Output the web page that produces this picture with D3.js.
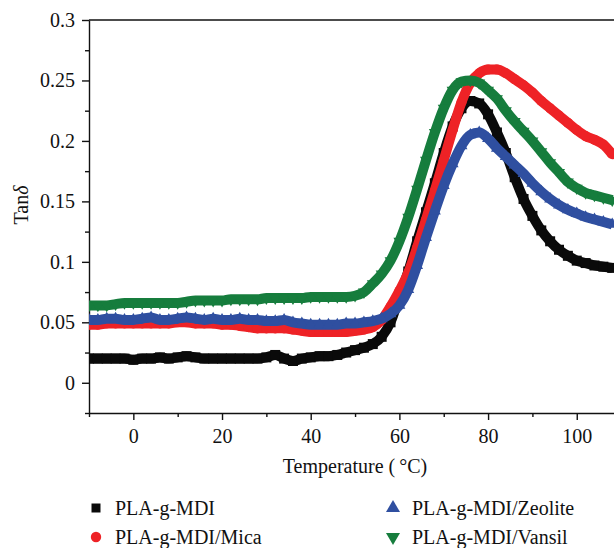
<!DOCTYPE html>
<html>
<head>
<meta charset="utf-8">
<script src="https://cdn.jsdelivr.net/npm/d3@7"></script>
<style>
    body { margin: 0; background: #fff; }
    svg { display: block; font-family: "Liberation Serif", "DejaVu Serif", serif; }
    .axis path, .axis line { stroke: #111; stroke-width: 1.4; }
    .axis text { font-family: "Liberation Serif", serif; font-size: 20px; fill: #111; }
    .label { font-size: 20px; fill: #111; }
</style>
</head>
<body>
<div id="chart"></div>
<script>

// temperature (°C)
const temps = [-10, -8, -6, -4, -2, 0, 2, 4, 6, 8,
    10, 12, 14, 16, 18, 20, 22, 24, 26, 28,
    30, 32, 34, 36, 38, 40, 42, 44, 46, 48,
    50, 52, 54, 56, 58, 60, 62, 64, 66, 68,
    70, 72, 74, 76, 78, 80, 82, 84, 86, 88,
    90, 92, 94, 96, 98, 100, 102, 104, 106, 108];

// tan delta per sample
const tanMdi = [0.020, 0.020, 0.020, 0.020, 0.020, 0.019, 0.020, 0.020, 0.021, 0.020,
    0.021, 0.022, 0.021, 0.020, 0.020, 0.020, 0.020, 0.020, 0.020, 0.020,
    0.021, 0.023, 0.020, 0.018, 0.020, 0.021, 0.022, 0.022, 0.023, 0.025,
    0.027, 0.029, 0.032, 0.038, 0.050, 0.071, 0.092, 0.117, 0.141, 0.165,
    0.190, 0.212, 0.227, 0.233, 0.231, 0.222, 0.207, 0.190, 0.170, 0.152,
    0.138, 0.126, 0.117, 0.110, 0.105, 0.101, 0.099, 0.097, 0.096, 0.095];

const tanMica = [0.048, 0.048, 0.049, 0.049, 0.049, 0.049, 0.049, 0.049, 0.049, 0.049,
    0.050, 0.050, 0.049, 0.049, 0.049, 0.048, 0.048, 0.047, 0.046, 0.045,
    0.045, 0.045, 0.045, 0.044, 0.043, 0.042, 0.042, 0.042, 0.042, 0.042,
    0.043, 0.044, 0.046, 0.052, 0.063, 0.076, 0.091, 0.112, 0.135, 0.159,
    0.184, 0.209, 0.232, 0.248, 0.256, 0.259, 0.259, 0.256, 0.251, 0.246,
    0.240, 0.233, 0.227, 0.221, 0.215, 0.209, 0.204, 0.201, 0.197, 0.189];

const tanZeolite = [0.052, 0.052, 0.053, 0.053, 0.052, 0.052, 0.053, 0.054, 0.052, 0.052,
    0.053, 0.054, 0.053, 0.052, 0.053, 0.052, 0.052, 0.053, 0.052, 0.052,
    0.051, 0.051, 0.052, 0.050, 0.049, 0.048, 0.048, 0.048, 0.048, 0.049,
    0.049, 0.050, 0.051, 0.053, 0.057, 0.064, 0.077, 0.097, 0.120, 0.142,
    0.163, 0.181, 0.196, 0.205, 0.207, 0.202, 0.194, 0.187, 0.180, 0.173,
    0.165, 0.158, 0.152, 0.147, 0.143, 0.140, 0.137, 0.135, 0.133, 0.131];

const tanVansil = [0.064, 0.064, 0.064, 0.065, 0.066, 0.066, 0.066, 0.066, 0.066, 0.066,
    0.066, 0.067, 0.068, 0.068, 0.068, 0.068, 0.069, 0.069, 0.069, 0.069,
    0.070, 0.070, 0.070, 0.070, 0.070, 0.071, 0.071, 0.071, 0.071, 0.071,
    0.072, 0.075, 0.082, 0.090, 0.101, 0.117, 0.137, 0.160, 0.184, 0.207,
    0.227, 0.242, 0.249, 0.250, 0.248, 0.242, 0.235, 0.225, 0.216, 0.208,
    0.200, 0.191, 0.182, 0.174, 0.166, 0.161, 0.157, 0.155, 0.153, 0.151];

const seriesNames = ["PLA-g-MDI", "PLA-g-MDI/Mica", "PLA-g-MDI/Zeolite", "PLA-g-MDI/Vansil"];
const seriesColors = ["#0a0a0a", "#ee2226", "#2f4fa0", "#167d3d"];

const yTicks = [0, 0.05, 0.1, 0.15, 0.2, 0.25, 0.3];
const yTickLabels = ["0", "0.05", "0.1", "0.15", "0.2", "0.25", "0.3"];
const yMinorTicks = [-0.025, 0.025, 0.075, 0.125, 0.175, 0.225, 0.275];
const xTicks = [0, 20, 40, 60, 80, 100];
const xMinorTicks = [-10, 10, 30, 50, 70, 90];


class tanDeltaChart {

    constructor(parentElement) {
        this.parentElement = parentElement;
        this.initVis();
    }

    initVis() {
        let vis = this;

        vis.margin = {top: 20, right: 0, bottom: 135, left: 89};
        vis.width = 614 - vis.margin.left - vis.margin.right;
        vis.height = 548 - vis.margin.top - vis.margin.bottom;

        vis.svg = d3.select("#" + vis.parentElement).append("svg")
            .attr("width", 614)
            .attr("height", 548)
            .append("g")
            .attr("transform", `translate(${vis.margin.left}, ${vis.margin.top})`);

        vis.x = d3.scaleLinear().domain([-10, 108.4]).range([0, vis.width]);
        vis.y = d3.scaleLinear().domain([-0.025, 0.3]).range([vis.height, 0]);

        vis.svg.append("clipPath").attr("id", "plot-clip")
            .append("rect")
            .attr("width", vis.width)
            .attr("height", vis.height);

        // minor ticks first, major on top
        vis.svg.append("g")
            .attr("class", "axis")
            .call(d3.axisLeft(vis.y).tickValues(yMinorTicks).tickSize(4).tickFormat(""))
            .select(".domain").remove();
        vis.svg.append("g")
            .attr("class", "axis")
            .attr("transform", `translate(0, ${vis.height})`)
            .call(d3.axisBottom(vis.x).tickValues(xMinorTicks).tickSize(4).tickFormat(""))
            .select(".domain").remove();

        vis.svg.append("g")
            .attr("class", "axis y-axis")
            .call(d3.axisLeft(vis.y).tickValues(yTicks).tickSize(7).tickPadding(7).tickSizeOuter(0)
                .tickFormat((d, i) => yTickLabels[i]));

        vis.svg.append("g")
            .attr("class", "axis x-axis")
            .attr("transform", `translate(0, ${vis.height})`)
            .call(d3.axisBottom(vis.x).tickValues(xTicks).tickSize(7).tickPadding(9).tickSizeOuter(0));

        // top border
        vis.svg.append("line")
            .attr("x1", 0).attr("x2", vis.width)
            .attr("y1", 0).attr("y2", 0)
            .attr("stroke", "#111").attr("stroke-width", 1.4);

        // axis titles
        vis.svg.append("text")
            .attr("class", "label")
            .attr("x", 266).attr("y", vis.height + 60)
            .attr("text-anchor", "middle")
            .text("Temperature (\u2009\u00b0C)");

        let yt = vis.svg.append("text")
            .attr("class", "label")
            .attr("transform", `translate(${28 - vis.margin.left}, 185) rotate(-90)`)
            .attr("text-anchor", "middle");
        yt.append("tspan").text("Tan");
        yt.append("tspan").attr("font-style", "italic").text("\u03b4");

        vis.symbols = [
            {type: d3.symbolSquare, size: 100, rot: 0},
            {type: d3.symbolCircle, size: 80, rot: 0},
            {type: d3.symbolTriangle, size: 62, rot: 0},
            {type: d3.symbolTriangle, size: 62, rot: 180}
        ];

        vis.wrangleData();
    }

    wrangleData() {
        let vis = this;
        let all = [tanMdi, tanMica, tanZeolite, tanVansil];
        vis.displayData = all.map((vals, i) => ({
            name: seriesNames[i],
            color: seriesColors[i],
            symbol: vis.symbols[i],
            points: temps.map((t, j) => ({t: t, v: vals[j]}))
        }));
        vis.updateVis();
    }

    updateVis() {
        let vis = this;

        let line = d3.line()
            .x(d => vis.x(d.t))
            .y(d => vis.y(d.v))
            .curve(d3.curveMonotoneX);

        let plot = vis.svg.append("g").attr("clip-path", "url(#plot-clip)");

        vis.displayData.forEach(s => {
            let g = plot.append("g").attr("class", "series");
            g.append("path")
                .datum(s.points)
                .attr("d", line)
                .attr("fill", "none")
                .attr("stroke", s.color)
                .attr("stroke-width", 10)
                .attr("stroke-linejoin", "round");
            g.selectAll(".pt")
                .data(s.points)
                .enter().append("path")
                .attr("class", "pt")
                .attr("d", d3.symbol().type(s.symbol.type).size(s.symbol.size))
                .attr("transform", d => `translate(${vis.x(d.t)}, ${vis.y(d.v)}) rotate(${s.symbol.rot})`)
                .attr("fill", s.color);
        });

        // legend
        let legendPos = [[7, 488], [7, 517], [304, 488], [304, 517]];
        let legend = vis.svg.append("g").attr("class", "legend");
        vis.displayData.forEach((s, i) => {
            let row = legend.append("g")
                .attr("transform", `translate(${legendPos[i][0]}, ${legendPos[i][1]})`);
            row.append("path")
                .attr("d", d3.symbol().type(s.symbol.type).size(i === 0 ? 81 : 85))
                .attr("transform", `rotate(${s.symbol.rot})`)
                .attr("fill", s.color);
            row.append("text")
                .attr("class", "label")
                .attr("x", 19)
                .attr("y", 6.5)
                .text(s.name);
        });
    }
}

new tanDeltaChart("chart");
</script>
</body>
</html>
